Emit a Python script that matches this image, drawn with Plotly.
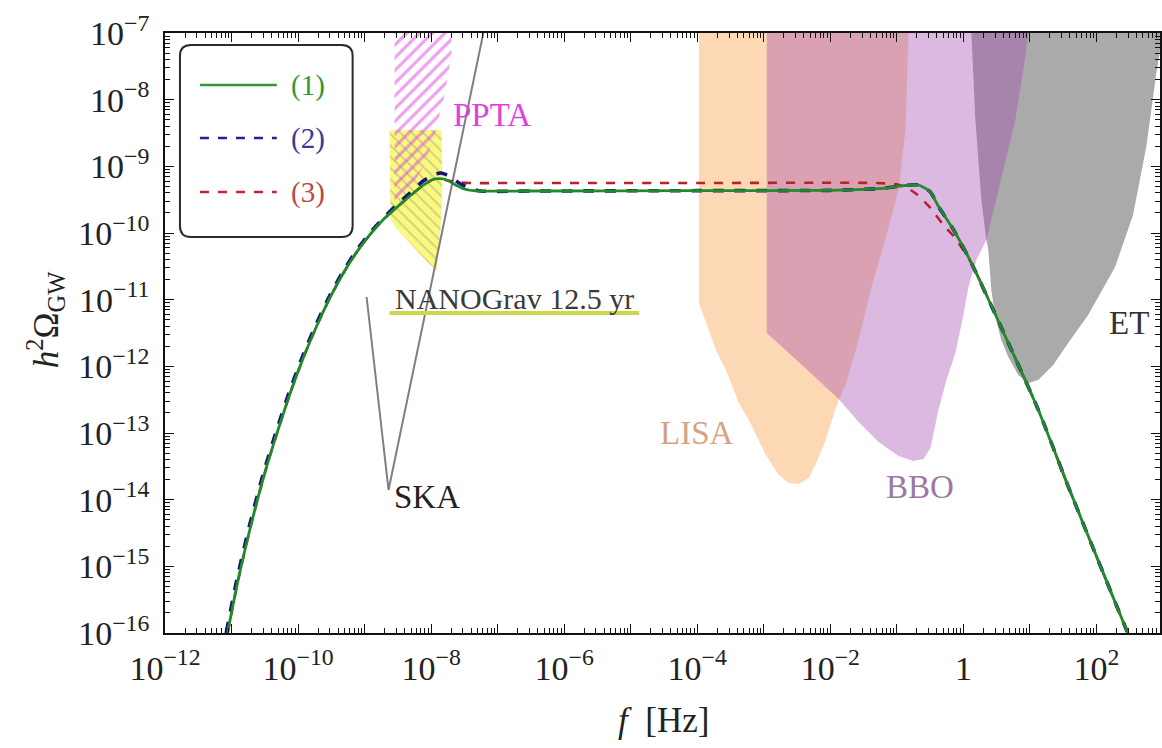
import plotly.graph_objects as go

# ---------------------------------------------------------------
# GW spectra, stored as log10 values: frequency [Hz] and h^2 Omega_GW
# ---------------------------------------------------------------
log_f_1 = [-11.06, -10.9, -10.7, -10.5, -10.3, -10.1, -9.9, -9.7, -9.5, -9.3,
           -9.1, -8.9, -8.7, -8.5, -8.3, -8.1, -7.95, -7.8, -7.65, -7.5, -7.3,
           -6.5, -4.0, -2.0, -1.2, -0.9, -0.675, -0.5, -0.375, -0.12, 0.12,
           0.63, 1.125, 1.575, 2.0, 2.47, 2.7]
log_om_1 = [-16.0, -15.2, -14.35, -13.6, -12.95, -12.35, -11.82, -11.35, -10.93, -10.57,
            -10.26, -10.0, -9.78, -9.6, -9.43, -9.27, -9.19, -9.19, -9.27, -9.34, -9.37,
            -9.37, -9.365, -9.36, -9.33, -9.29, -9.28, -9.38, -9.6, -10.0, -10.45,
            -11.55, -12.65, -13.8, -14.85, -16.0, -16.55]

log_f_2 = [-11.08, -10.92, -10.72, -10.52, -10.32, -10.12, -9.92, -9.72, -9.52, -9.32,
           -9.12, -8.92, -8.72, -8.52, -8.32, -8.12, -7.95, -7.85, -7.72, -7.58, -7.42, -7.25,
           -6.5, -4.0, -2.0, -1.2, -0.9, -0.675, -0.5, -0.375, -0.12, 0.12,
           0.63, 1.125, 1.575, 2.0, 2.47, 2.7]
log_om_2 = [-16.0, -15.2, -14.35, -13.6, -12.95, -12.35, -11.82, -11.35, -10.93, -10.57,
            -10.26, -10.0, -9.78, -9.58, -9.4, -9.22, -9.12, -9.1, -9.15, -9.25, -9.33, -9.37,
            -9.37, -9.365, -9.36, -9.33, -9.29, -9.28, -9.38, -9.6, -10.0, -10.45,
            -11.55, -12.65, -13.8, -14.85, -16.0, -16.55]

log_f_3 = [-11.06, -10.9, -10.7, -10.5, -10.3, -10.1, -9.9, -9.7, -9.5, -9.3,
           -9.1, -8.9, -8.7, -8.5, -8.3, -8.1, -7.95, -7.8, -7.6, -7.4,
           -6.5, -4.0, -1.3, -1.0, -0.85, -0.7, -0.5, -0.3, -0.12, 0.12,
           0.63, 1.125, 1.575, 2.0, 2.47, 2.7]
log_om_3 = [-16.0, -15.2, -14.35, -13.6, -12.95, -12.35, -11.82, -11.35, -10.93, -10.57,
            -10.26, -10.0, -9.78, -9.6, -9.43, -9.27, -9.19, -9.2, -9.24, -9.25,
            -9.25, -9.25, -9.25, -9.27, -9.32, -9.42, -9.62, -9.88, -10.08, -10.45,
            -11.55, -12.65, -13.8, -14.85, -16.0, -16.55]

# ---------------------------------------------------------------
# Experimental sensitivity regions (log10 f, log10 h^2 Omega_GW)
# ---------------------------------------------------------------
lisa_lf = [-3.975, -3.975, -3.87, -3.72, -3.57, -3.375, -3.225, -2.97, -2.775, -2.625,
           -2.475, -2.325, -2.205, -2.07, -1.95, -1.875, -1.77, -1.575, -1.38, -1.155,
           -0.975, -0.87, -0.825, -0.81]
lisa_lo = [-6.5, -11.05, -11.335, -11.755, -12.055, -12.55, -12.805, -13.33, -13.63, -13.75,
           -13.765, -13.675, -13.435, -13.105, -12.73, -12.505, -12.28, -11.605, -10.81, -10.03,
           -9.355, -8.455, -7.0, -6.5]

bbo_lf = [-2.955, -2.955, -2.475, -1.875, -1.575, -1.275, -0.975, -0.75, -0.6, -0.495,
          -0.375, -0.255, -0.12, 0.0, 0.075, 0.195, 0.345, 0.42, 0.6, 0.78, 0.9, 0.975, 0.99]
bbo_lo = [-6.5, -11.5, -11.935, -12.49, -12.835, -13.135, -13.345, -13.42, -13.39, -13.225,
          -12.655, -12.205, -11.8, -11.23, -10.81, -10.405, -10.105, -9.805, -9.055, -8.305,
          -7.555, -7.0, -6.5]

et_lf = [0.12, 0.12, 0.18, 0.27, 0.345, 0.375, 0.42, 0.48, 0.57, 0.675, 0.825, 0.975,
         1.125, 1.35, 1.575, 1.875, 2.28, 2.55, 2.75, 2.9, 3.0, 3.1]
et_lo = [-6.5, -7.0, -8.305, -9.505, -10.105, -10.255, -10.855, -11.26, -11.605, -11.86,
         -12.13, -12.25, -12.205, -11.98, -11.65, -11.23, -10.51, -9.73, -8.7, -7.6,
         -7.0, -6.5]

ppta_lf = [-8.55, -8.55, -8.325, -8.1, -7.95, -7.8, -7.695, -7.695]
ppta_lo = [-6.5, -9.58, -9.355, -8.98, -8.53, -7.93, -7.33, -6.5]

nano_lf = [-8.625, -7.845, -7.83, -7.86, -7.92, -8.055, -8.25, -8.475, -8.61]
nano_lo = [-8.455, -8.455, -9.205, -9.955, -10.555, -10.435, -10.225, -9.985, -9.805]

ska_lf = [-8.97, -8.64, -7.215, -7.14]
ska_lo = [-10.96, -13.855, -7.0, -6.5]

# NANOGrav label underline
nano_bar_lf = [-8.625, -4.875]
nano_bar_lo = [-11.2, -11.2]

# Axis ticks (decade exponents)
x_decades = list(range(-12, 3))
y_decades = list(range(-16, -6))
x_labelled = [-12, -10, -8, -6, -4, -2, 0, 2]

# Region labels: text, log10 f, log10 Omega, colour, size
region_labels = [
    ("PPTA", -7.08, -8.23, "#e23fe0", 33),
    ("NANOGrav 12.5 yr", -6.75, -10.975, "#3a3a3a", 30),
    ("SKA", -8.055, -13.96, "#222222", 33),
    ("LISA", -4.005, -13.0, "#d6a281", 33),
    ("BBO", -0.645, -13.81, "#9c78a2", 33),
    ("ET", 2.49, -11.35, "#333333", 33),
]

FONT = "Liberation Serif"


def to_lin(vals):
    return [10.0 ** v for v in vals]


def exp_label(k):
    if k == 0:
        return "1"
    s = str(k).replace("-", "\u2212")
    return "10<sup>" + s + "</sup>"


def region(lf, lo, **kw):
    return go.Scatter(x=to_lin(lf), y=to_lin(lo), mode="lines", fill="toself",
                      line=dict(width=0), hoverinfo="skip", showlegend=False, **kw)


fig = go.Figure()

# sensitivity regions
fig.add_trace(region(lisa_lf, lisa_lo, fillcolor="rgba(250,190,130,0.6)"))
fig.add_trace(region(et_lf, et_lo, fillcolor="rgb(170,170,170)"))
fig.add_trace(region(bbo_lf, bbo_lo, fillcolor="rgba(162,68,175,0.375)"))

# NANOGrav (yellow), PPTA (magenta hatch), NANOGrav hatch
fig.add_trace(region(nano_lf, nano_lo, fillcolor="rgba(245,245,40,0.6)"))
fig.add_trace(region(ppta_lf, ppta_lo, fillcolor="rgba(0,0,0,0)",
                     fillpattern=dict(shape="/", fgcolor="#e23fe0",
                                      bgcolor="rgba(0,0,0,0)", size=9,
                                      solidity=0.35, fillmode="overlay")))
fig.add_trace(region(nano_lf, nano_lo, fillcolor="rgba(0,0,0,0)",
                     fillpattern=dict(shape="\\", fgcolor="rgba(130,130,150,0.75)",
                                      bgcolor="rgba(0,0,0,0)", size=8,
                                      solidity=0.22, fillmode="overlay")))

# SKA sensitivity
fig.add_trace(go.Scatter(x=to_lin(ska_lf), y=to_lin(ska_lo), mode="lines",
                         line=dict(color="#7f7f7f", width=2),
                         hoverinfo="skip", showlegend=False))
# NANOGrav label bar
fig.add_trace(go.Scatter(x=to_lin(nano_bar_lf), y=to_lin(nano_bar_lo), mode="lines",
                         line=dict(color="#cbd84c", width=4),
                         hoverinfo="skip", showlegend=False))

# spectra
fig.add_trace(go.Scatter(x=to_lin(log_f_3), y=to_lin(log_om_3), mode="lines", name="(3)",
                         line=dict(color="#b8232a", width=2.6, dash="dash", shape="spline",
                                   smoothing=0.6),
                         showlegend=False))
fig.add_trace(go.Scatter(x=to_lin(log_f_2), y=to_lin(log_om_2), mode="lines", name="(2)",
                         line=dict(color="#14147a", width=3.6, dash="dash", shape="spline",
                                   smoothing=0.6),
                         showlegend=False))
fig.add_trace(go.Scatter(x=to_lin(log_f_1), y=to_lin(log_om_1), mode="lines", name="(1)",
                         line=dict(color="#218a2a", width=2.8, shape="spline", smoothing=0.6),
                         showlegend=False))

# region labels
for txt, lf, lo, col, sz in region_labels:
    fig.add_annotation(x=lf, y=lo, xref="x", yref="y", text=txt, showarrow=False,
                       xanchor="center", yanchor="middle",
                       font=dict(family=FONT, size=sz, color=col))

# legend box with rounded corners (paper coordinates)
W, H = 997.0, 600.0
bx0, bx1 = 15 / W, 188 / W
by0, by1 = (633 - 237) / H, (633 - 45) / H
rx, ry = 11 / W, 11 / H
box_path = (f"M {bx0 + rx},{by1} L {bx1 - rx},{by1} Q {bx1},{by1} {bx1},{by1 - ry} "
            f"L {bx1},{by0 + ry} Q {bx1},{by0} {bx1 - rx},{by0} "
            f"L {bx0 + rx},{by0} Q {bx0},{by0} {bx0},{by0 + ry} "
            f"L {bx0},{by1 - ry} Q {bx0},{by1} {bx0 + rx},{by1} Z")
fig.add_shape(type="path", path=box_path, xref="paper", yref="paper",
              line=dict(color="#2b2b2b", width=2), fillcolor="rgba(255,255,255,0.9)")

legend_rows = [("(1)", "#2e9a35", "#2e9a35", "solid", 85),
               ("(2)", "#23238f", "#3a3a9a", "dash", 138),
               ("(3)", "#c0282d", "#b84a4a", "dash", 192)]
for label, lcol, tcol, dash, ypx in legend_rows:
    yp = (633 - ypx) / H
    fig.add_shape(type="line", xref="paper", yref="paper",
                  x0=35 / W, x1=112 / W, y0=yp, y1=yp,
                  line=dict(color=lcol, width=2.4, dash=dash))
    fig.add_annotation(x=143 / W, y=yp, xref="paper", yref="paper", text=label,
                       xanchor="center", yanchor="middle", showarrow=False,
                       font=dict(family=FONT, size=29, color=tcol))

# axis titles
fig.add_annotation(x=(45 - 165) / W, y=(633 - 320) / H, xref="paper", yref="paper",
                   text="<i>h</i><sup>2</sup>\u03a9<sub>GW</sub>", textangle=-90,
                   xanchor="center", yanchor="middle",
                   showarrow=False, font=dict(family=FONT, size=35, color="#222"))
fig.add_annotation(x=(665 - 165) / W, y=(633 - 720) / H, xref="paper", yref="paper",
                   text="<i>f</i>  [Hz]", showarrow=False,
                   xanchor="center", yanchor="middle",
                   font=dict(family=FONT, size=35, color="#222"))

x_minor = [m * 10.0 ** k for k in range(-12, 3) for m in range(2, 10)]
y_minor = [m * 10.0 ** k for k in range(-16, -7) for m in range(2, 10)]

axis_common = dict(type="log", showgrid=False, zeroline=False, showline=True,
                   linecolor="#111", linewidth=1.6, mirror="allticks",
                   ticks="inside", ticklen=9, tickwidth=1.3, tickcolor="#111",
                   tickfont=dict(family=FONT, size=34, color="#222"))

fig.update_layout(
    width=1162, height=748,
    margin=dict(l=165, r=0, t=33, b=115),
    paper_bgcolor="white", plot_bgcolor="white",
    showlegend=False,
    xaxis=dict(range=[-12, 2.955],
               tickvals=to_lin(x_decades),
               ticktext=[exp_label(k) if k in x_labelled else "" for k in x_decades],
               ticklabelstandoff=4,
               minor=dict(ticks="inside", ticklen=5, tickwidth=1, tickcolor="#111",
                          tickvals=x_minor, showgrid=False),
               **axis_common),
    yaxis=dict(range=[-16, -7],
               tickvals=to_lin(y_decades),
               ticktext=[exp_label(k) for k in y_decades],
               ticklabelstandoff=7,
               minor=dict(ticks="inside", ticklen=5, tickwidth=1, tickcolor="#111",
                          tickvals=y_minor, showgrid=False),
               **axis_common),
)

fig.write_html("out.html")
